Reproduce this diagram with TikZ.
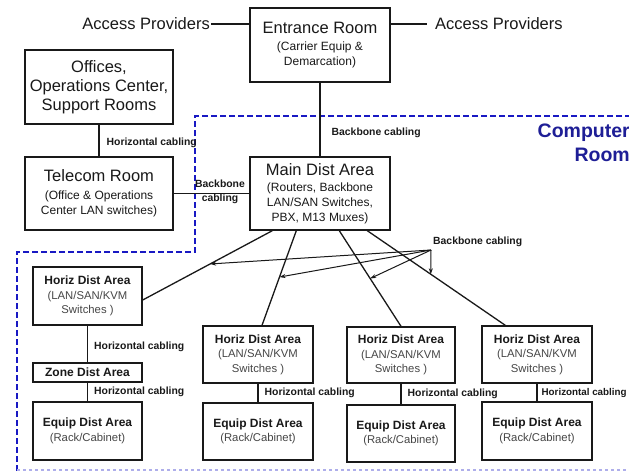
\documentclass[tikz,border=0pt]{standalone}
\usepackage{fontspec}
\setmainfont{Liberation Sans}
\usetikzlibrary{calc,arrows.meta}

\definecolor{cablue}{RGB}{25,25,195}
\definecolor{roomblue}{RGB}{30,30,150}
\definecolor{ink}{RGB}{25,25,25}
\definecolor{subink}{RGB}{70,70,70}

\newcommand\bigf{\fontsize{16.5}{19}\selectfont}
\newcommand\subf{\fontsize{12}{15}\selectfont}
\newcommand\smhd{\bfseries\fontsize{12}{14.5}\selectfont}
\newcommand\smsub{\fontsize{11.3}{14.5}\selectfont}
\newcommand\lblf{\bfseries\fontsize{10.4}{12.5}\selectfont}
\newcommand\hdl[1]{{\color{ink}\smhd #1}}

\tikzset{
  room/.style={draw=ink,line width=1.4pt,fill=white,align=center,inner sep=0pt,text=ink},
  bigroom/.style={room,minimum width=140pt,minimum height=74pt,font=\subf},
  area/.style={room,minimum width=109pt,minimum height=57pt,font=\smsub,text=subink},
  cable/.style={draw=ink,line width=1.3pt},
  lbl/.style={font=\lblf,text=ink,inner sep=2pt},
  arr/.style={draw=ink,line width=1pt,-{Stealth[length=6pt,width=4pt]}},
  border/.style={draw=cablue,line width=2.4pt,dash pattern=on 6pt off 3pt}
}

\begin{document}
\begin{tikzpicture}[x=1pt,y=-1pt]
  \useasboundingbox[fill=white] (0,0) rectangle (629,472);
  % граница
  \draw[border] (631,116) -- (195,116) -- (195,252) -- (17,252) -- (17,474);
  \draw[draw=cablue!35,line width=1.5pt,dash pattern=on 3pt off 3pt] (17,470) -- (631,470);
  \node[font=\bfseries\fontsize{19.5}{24}\selectfont,text=roomblue,align=right,
    anchor=east,inner sep=0pt] (croom) at (630,143) {Computer\\Room};

  % комнаты
  \node[bigroom] (entr) at (320,45) {{\bigf Entrance Room}\\[2pt] (Carrier Equip \&\\ Demarcation)};
  \node[room,minimum width=148pt,minimum height=74pt,font=\bigf] (offc) at (99,87)
    {Offices,\\ Operations Center,\\ Support Rooms};
  \node[room,minimum width=148pt,minimum height=73pt,font=\subf] (tele) at (99,193.5)
    {{\bigf Telecom Room}\\[3pt] (Office \& Operations\\ Center LAN switches)};
  \node[bigroom,minimum height=73pt] (mda) at (320,193.5)
    {{\bigf Main Dist Area}\\[1pt] (Routers, Backbone\\ LAN/SAN Switches,\\ PBX, M13 Muxes)};
  \node[font=\bigf,text=ink,anchor=east,inner sep=1pt] (apl) at (211,24) {Access Providers};
  \node[font=\bigf,text=ink,anchor=west,inner xsep=8pt,inner ysep=1pt] (apr) at (427,24) {Access Providers};

  \node[area,minimum height=58pt] (hda1) at (87.5,296) {\hdl{Horiz Dist Area}\\ (LAN/SAN/KVM\\ Switches )};
  \node[area,minimum height=19pt] (zda) at (87.5,372.5) {\hdl{Zone Dist Area}};
  \node[area,minimum height=58pt] (eda1) at (87.5,431) {\hdl{Equip Dist Area}\\ (Rack/Cabinet)};
  \node[area,minimum width=110pt] (hda2) at (258,354.5) {\hdl{Horiz Dist Area}\\ (LAN/SAN/KVM\\ Switches )};
  \node[area,minimum width=110pt] (eda2) at (258,431.5) {\hdl{Equip Dist Area}\\ (Rack/Cabinet)};
  \node[area,minimum width=108pt,minimum height=56pt] (hda3) at (401,355) {\hdl{Horiz Dist Area}\\ (LAN/SAN/KVM\\ Switches )};
  \node[area,minimum width=108pt] (eda3) at (401,433.5) {\hdl{Equip Dist Area}\\ (Rack/Cabinet)};
  \node[area,minimum width=110pt] (hda4) at (537,354.5) {\hdl{Horiz Dist Area}\\ (LAN/SAN/KVM\\ Switches )};
  \node[area,minimum width=110pt,minimum height=58pt] (eda4) at (537,431) {\hdl{Equip Dist Area}\\ (Rack/Cabinet)};

  % кабели
  \draw[cable] (apl) -- (apl -| entr.west);
  \draw[cable] (entr.east |- apr) -- (apr);
  \draw[cable] (entr) -- node[lbl,pos=0.68,right,xshift=9pt] (bc0) {Backbone cabling} (mda);
  \draw[cable] (offc) -- node[lbl,pos=0.58,right,xshift=5pt] (hc0) {Horizontal cabling} (tele);
  \draw[cable] (tele) -- node[lbl,midway,align=center,xshift=8.5pt,yshift=1.5pt] (bc1) {Backbone\\[1.5pt]cabling} (mda);
  \draw[cable] (hda1) -- node[lbl,pos=0.58,right,xshift=4pt] (hc1) {Horizontal cabling} (zda);
  \draw[cable] (zda) -- node[lbl,midway,right,xshift=4pt] (hc2) {Horizontal cabling} (eda1);
  \draw[cable] (hda2) -- node[lbl,midway,right,xshift=4pt] (hc3) {Horizontal cabling} (eda2);
  \draw[cable] (hda3) -- node[lbl,midway,right,xshift=4pt] (hc4) {Horizontal cabling} (eda3);
  \draw[cable] (hda4) -- node[lbl,midway,right,xshift=3pt,inner sep=1pt,
    font=\bfseries\fontsize{9.8}{12}\selectfont] (hc5) {Horizontal cabling} (eda4);

  \draw[cable] ($(mda.south west)+(23,0)$) -- coordinate[pos=.48] (t1) ($(hda1.east)+(0,4)$);
  \draw[cable] ($(mda.south west)+(47,0)$) -- coordinate[pos=.49] (t2) ($(hda2.north)+(4,0)$);
  \draw[cable] ($(mda.south west)+(90,0)$) -- coordinate[pos=.5] (t3) (hda3.north);
  \draw[cable] ($(mda.south west)+(118,0)$) -- coordinate[pos=.46] (t4) ($(hda4.north west)+(24,0)$);

  % стрелки
  \coordinate (bbc) at (431,250);
  \node[lbl,anchor=west] (bbl) at (431,242) {Backbone cabling};
  \foreach \t in {t1,t2,t3,t4}
    \draw[arr] (bbc) -- (\t);
\end{tikzpicture}
\end{document}
